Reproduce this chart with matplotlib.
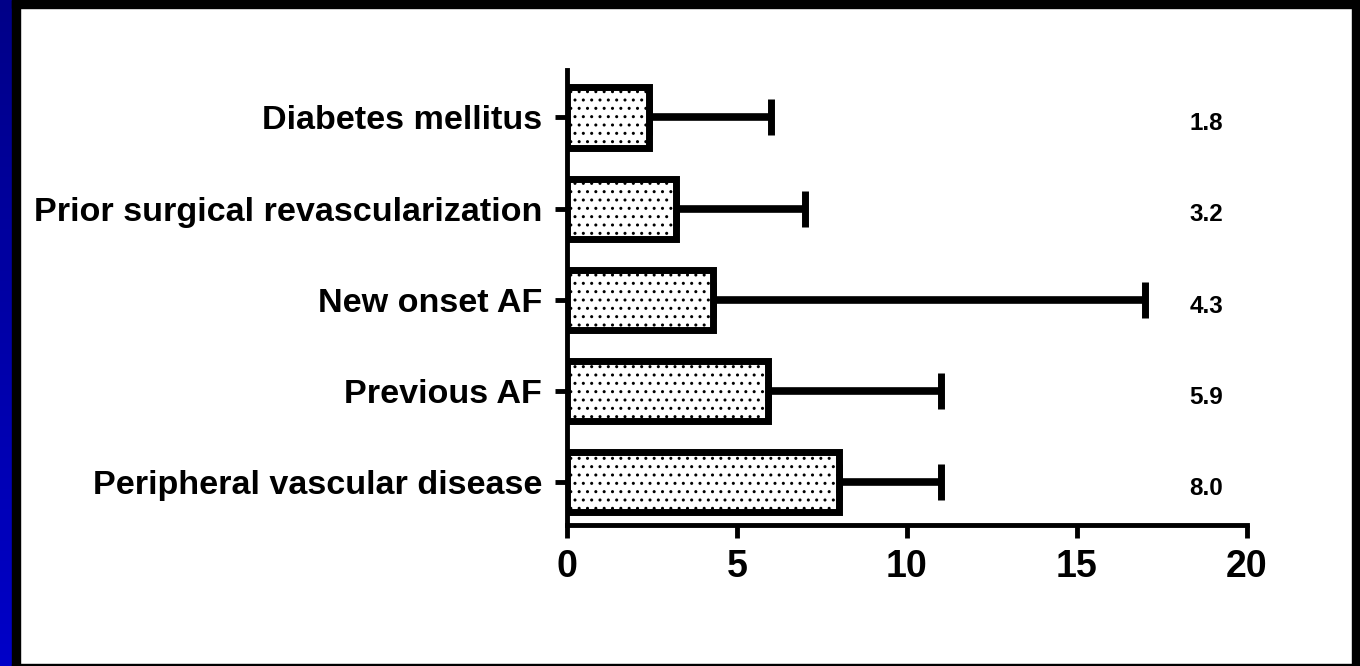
import matplotlib.pyplot as plt
import numpy as np

plt.rcParams['font.family'] = ['Liberation Sans', 'DejaVu Sans']
plt.rcParams['font.weight'] = 'bold'
plt.rcParams['hatch.linewidth'] = 1.0

# factors, top to bottom
factors = ['Diabetes mellitus', 'Prior surgical revascularization',
           'New onset AF', 'Previous AF', 'Peripheral vascular disease']
bar_values = [2.4, 3.2, 4.3, 5.9, 8.0]
upper_values = [6.0, 7.0, 17.0, 11.0, 11.0]
value_labels = ['1.8', '3.2', '4.3', '5.9', '8.0']
x_ticks = [0, 5, 10, 15, 20]


def draw_frame(fig):
    # blue gradient stripe on the left
    stripe = fig.add_axes([0, 0, 12 / 1360, 1])
    grad = np.linspace(0, 1, 256).reshape(-1, 1)
    cmap = plt.matplotlib.colors.LinearSegmentedColormap.from_list('b', ['#0000c8', '#000088'])
    stripe.imshow(grad, aspect='auto', cmap=cmap, origin='lower')
    stripe.axis('off')
    # black border
    for rect in [(12, 0, 8, 666), (12, 658, 1348, 8), (1352, 0, 8, 666), (12, 0, 1348, 2)]:
        x, y, w, h = rect
        fig.patches.append(plt.Rectangle((x / 1360, y / 666), w / 1360, h / 666,
                                         transform=fig.transFigure, color='black', zorder=5))


def draw_chart():
    fig = plt.figure(figsize=(13.6, 6.66), dpi=100)
    fig.patch.set_facecolor('white')
    draw_frame(fig)

    ax = fig.add_axes([567 / 1360, 141 / 666, 680 / 1360, 455 / 666])
    y = np.arange(len(factors))[::-1]
    vals = np.array(bar_values)
    ups = np.array(upper_values)

    ax.barh(y, vals, height=0.66, color='white', edgecolor='black',
            linewidth=5, hatch='..', zorder=2)
    ax.errorbar(vals, y, xerr=[np.zeros_like(vals), ups - vals], fmt='none',
                ecolor='black', elinewidth=5.5, capsize=13, capthick=5, zorder=1)

    for yy, lab in zip(y, value_labels):
        ax.text(18.8, yy - 0.07, lab, ha='center', va='center', fontsize=17.5, fontweight='bold')

    ax.set_xlim(0, 20)
    ax.set_ylim(-0.47, 4.52)
    ax.set_xticks(x_ticks)
    ax.set_xticklabels([str(t) for t in x_ticks], fontsize=27, fontweight='bold')
    ax.set_yticks(y)
    ax.set_yticklabels(factors, fontsize=24.6, fontweight='bold')
    ax.tick_params(axis='x', length=9, width=3.5, pad=8)
    ax.tick_params(axis='y', length=9, width=3.5, pad=9)
    for s in ['top', 'right']:
        ax.spines[s].set_visible(False)
    for s in ['left', 'bottom']:
        ax.spines[s].set_linewidth(3.5)
    ax.set_facecolor('white')

    fig.savefig('out.png', dpi=100, facecolor='white')


draw_chart()
